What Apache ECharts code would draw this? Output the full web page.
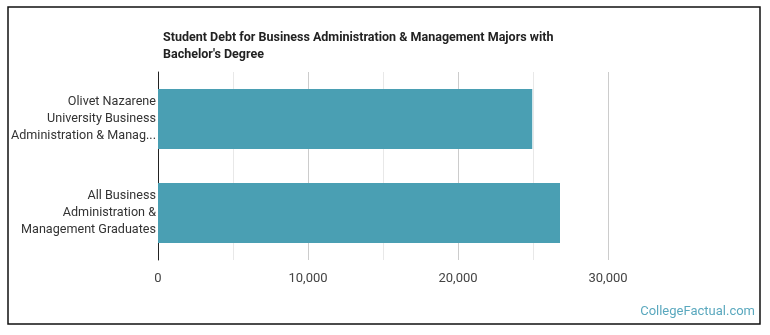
<!DOCTYPE html>
<html>
<head>
<meta charset="utf-8">
<script src="https://cdn.jsdelivr.net/npm/echarts@6/dist/echarts.min.js"></script>
<style>
  html, body { margin: 0; padding: 0; background: #fff; }
  #chart { width: 770px; height: 335px; }
</style>
</head>
<body>
<div id="chart"></div>
<script>
// chart data
var categories = [
  'Olivet Nazarene\nUniversity Business\nAdministration & Manag...',
  'All Business\nAdministration &\nManagement Graduates'
];
var debtValues = [24950, 26800];
var titleText = 'Student Debt for Business Administration & Management Majors with\nBachelor\'s Degree';

var chart = echarts.init(document.getElementById('chart'), null, { renderer: 'canvas' });

var option = {
  animation: false,
  title: {
    text: titleText,
    left: 158,
    top: 24,
    textStyle: {
      fontFamily: 'Roboto, sans-serif',
      fontSize: 12.5,
      fontWeight: 'bold',
      color: '#222',
      lineHeight: 17
    }
  },
  grid: {
    left: 158,
    top: 72,
    width: 450,
    height: 188,
    containLabel: false
  },
  xAxis: {
    type: 'value',
    min: 0,
    max: 30000,
    interval: 5000,
    axisLine: { show: false },
    axisTick: { show: false },
    axisLabel: {
      margin: 12,
      color: '#444',
      fontFamily: 'Roboto, sans-serif',
      fontSize: 13,
      formatter: function (v) {
        if (v % 10000 !== 0) return '';
        return v.toLocaleString('en-US');
      }
    },
    splitLine: {
      show: true,
      lineStyle: { color: ['#cccccc', '#e8e8e8'], width: 1 }
    }
  },
  yAxis: {
    type: 'category',
    inverse: true,
    data: categories,
    axisLine: { show: true, lineStyle: { color: '#222', width: 1 } },
    axisTick: { show: false },
    axisLabel: {
      margin: 2,
      color: '#333',
      fontFamily: 'Roboto, sans-serif',
      fontSize: 12.6,
      lineHeight: 17,
      align: 'right'
    }
  },
  series: [{
    type: 'bar',
    data: debtValues,
    barWidth: 60,
    itemStyle: { color: '#4a9fb3' }
  }],
  graphic: [
    {
      type: 'rect',
      shape: { x: 8, y: 7, width: 752, height: 317 },
      style: { fill: 'none', stroke: '#111', lineWidth: 1.5 },
      silent: true
    },
    {
      type: 'text',
      right: 15,
      top: 305,
      style: {
        text: 'CollegeFactual.com',
        fill: '#5aa8be',
        font: '13px Roboto, sans-serif'
      }
    }
  ]
};

chart.setOption(option);
window.addEventListener('resize', chart.resize);
</script>
</body>
</html>
